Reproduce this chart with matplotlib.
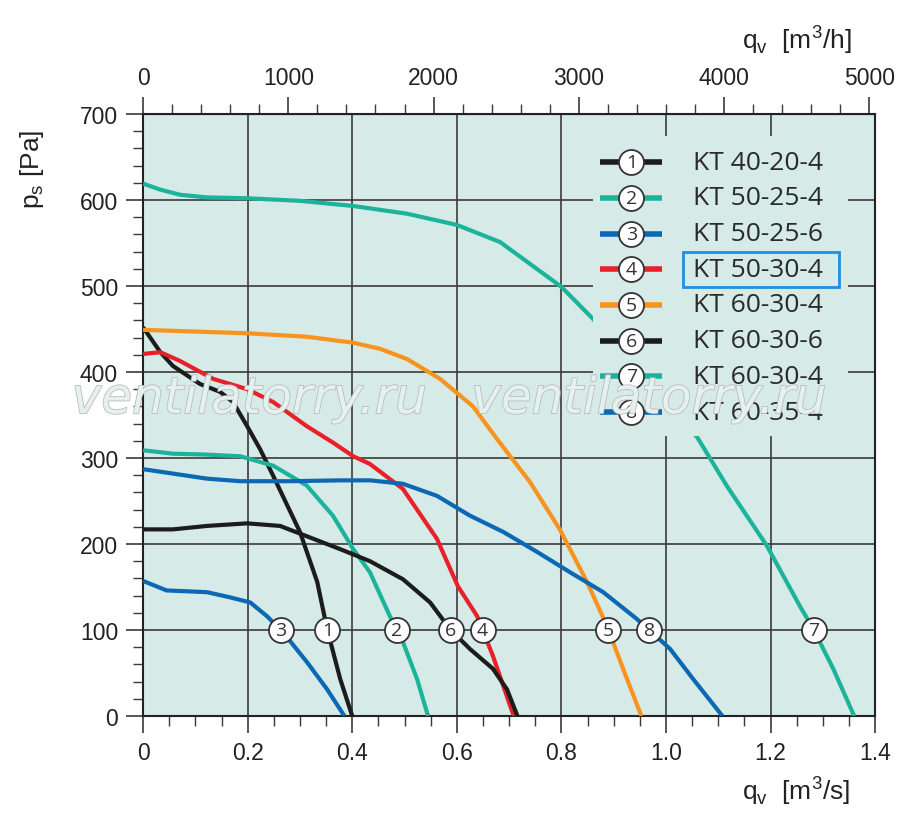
import numpy as np
import matplotlib.pyplot as plt
import matplotlib.patheffects as pe
from matplotlib.patches import Rectangle
from matplotlib.ticker import MultipleLocator

# Fan curves: q in m3/s, p_s in Pa
q1 = [0, 0.033, 0.057, 0.109, 0.147, 0.172, 0.199, 0.224, 0.249, 0.30, 0.333,
      0.352, 0.377, 0.40]
p1 = [452, 423, 407, 386, 377, 365, 337, 310, 279, 214, 156, 101, 43, 0]

q2 = [0, 0.057, 0.12, 0.186, 0.249, 0.313, 0.363, 0.402, 0.434, 0.472, 0.497,
      0.524, 0.545]
p2 = [309, 305, 304, 302, 291, 268, 233, 194, 167, 116, 86, 43, 0]

q3 = [0, 0.045, 0.122, 0.166, 0.205, 0.237, 0.268, 0.313, 0.352, 0.385]
p3 = [157, 146, 144, 138, 132, 116, 97, 63, 31, 0]

q4 = [0, 0.033, 0.07, 0.134, 0.199, 0.249, 0.313, 0.363, 0.402, 0.434, 0.497,
      0.562, 0.602, 0.639, 0.669, 0.702, 0.709]
p4 = [421, 423, 413, 392, 380, 365, 337, 318, 302, 293, 264, 206, 151, 116,
      70, 12, 0]

q5 = [0, 0.199, 0.313, 0.402, 0.453, 0.505, 0.568, 0.631, 0.677, 0.740, 0.797,
      0.849, 0.887, 0.918, 0.953]
p5 = [449, 445, 441, 434, 427, 415, 392, 360, 322, 272, 217, 156, 105, 55, 0]

q6 = [0, 0.057, 0.122, 0.199, 0.262, 0.313, 0.377, 0.434, 0.497, 0.549, 0.587,
      0.625, 0.669, 0.696, 0.716]
p6 = [217, 217, 221, 224, 221, 209, 194, 180, 159, 132, 101, 78, 55, 31, 0]

q7 = [0, 0.033, 0.071, 0.122, 0.199, 0.30, 0.402, 0.505, 0.60, 0.683, 0.746,
      0.80, 0.86, 0.92, 0.99, 1.06, 1.117, 1.193, 1.256, 1.282, 1.32, 1.36]
p7 = [619, 612, 606, 603, 602, 599, 593, 584, 571, 551, 523, 499, 462, 418,
      372, 324, 267, 198, 128, 101, 55, 0]

q8 = [0, 0.122, 0.186, 0.281, 0.377, 0.434, 0.497, 0.562, 0.625, 0.689, 0.753,
      0.817, 0.88, 0.944, 1.008, 1.052, 1.108]
p8 = [287, 276, 273, 273, 274, 274, 270, 256, 233, 214, 191, 167, 144, 113,
      78, 43, 0]

curves = [(q1, p1), (q2, p2), (q3, p3), (q4, p4),
          (q5, p5), (q6, p6), (q7, p7), (q8, p8)]
names = ["KT 40-20-4", "KT 50-25-4", "KT 50-25-6", "KT 50-30-4",
         "KT 60-30-4", "KT 60-30-6", "KT 60-30-4", "KT 60-35-4"]
colors = ["#1c1c1c", "#1db39b", "#0a68b4", "#e8202a",
          "#f7931e", "#1c1c1c", "#1db39b", "#0a68b4"]
label_p = 100  # circled numbers sit on the 100 Pa line

bg = "#d6ebe7"
grid_c = "#3a3a3a"
num_font = ["Open Sans", "DejaVu Sans"]
tick_font = ["Liberation Sans", "DejaVu Sans"]

fig = plt.figure(figsize=(9, 8.2), dpi=100)
ax = fig.add_axes([0.159, 0.1256, 0.8133, 0.7342])
ax.set_facecolor(bg)
ax.set_xlim(0, 1.4)
ax.set_ylim(0, 700)

ax.xaxis.set_major_locator(MultipleLocator(0.2))
ax.xaxis.set_minor_locator(MultipleLocator(0.05))
ax.yaxis.set_major_locator(MultipleLocator(100))
ax.yaxis.set_minor_locator(MultipleLocator(20))
ax.grid(True, which="major", color=grid_c, lw=1.2, zorder=1)
ax.set_axisbelow(True)
ax.set_xticks(np.arange(0, 1.41, 0.2))
ax.set_xticklabels(["0", "0.2", "0.4", "0.6", "0.8", "1.0", "1.2", "1.4"])
ax.tick_params(which="major", direction="out", length=12, width=1.2, color=grid_c,
               labelsize=16.5, pad=6)
ax.tick_params(which="minor", direction="out", length=7, width=1.0, color=grid_c)
for lab in ax.get_xticklabels() + ax.get_yticklabels():
    lab.set_family(tick_font)
    lab.set_color("#222222")
for s in ax.spines.values():
    s.set_color("#222222")
    s.set_linewidth(1.5)

sec = ax.secondary_xaxis("top", functions=(lambda x: x * 3600, lambda x: x / 3600))
sec.set_xticks(np.arange(0, 5001, 1000))
sec.xaxis.set_minor_locator(MultipleLocator(200))
sec.tick_params(which="major", direction="out", length=12, width=1.2, color=grid_c,
                labelsize=16.5, pad=6)
sec.tick_params(which="minor", direction="out", length=7, width=1.0, color=grid_c)
for lab in sec.get_xticklabels():
    lab.set_family(tick_font)
    lab.set_color("#222222")

# curves
for (q, p), c in zip(curves, colors):
    ax.plot(q, p, color=c, lw=3, solid_capstyle="butt", solid_joinstyle="round",
            zorder=3)

# circled numbers on the curves at 100 Pa
for i, (q, p) in enumerate(curves):
    q = np.asarray(q, float)
    p = np.asarray(p, float)
    k = int(np.argmax(p))
    qx = np.interp(label_p, p[k:][::-1], q[k:][::-1])
    ax.plot(qx, label_p, "o", ms=18, mfc="white", mec="#333333", mew=1.3, zorder=5)
    ax.text(qx, label_p, str(i + 1), ha="center", va="center", fontsize=14,
            family=num_font, color="#333333", zorder=6)

# legend block (drawn by hand, number circles in the line)
ax.add_patch(Rectangle((0.615, 0.465), 0.348, 0.498, transform=ax.transAxes,
                       facecolor=bg, edgecolor="none", zorder=7))
row0, step = 0.920, 0.0593
for i, (name, c) in enumerate(zip(names, colors)):
    yy = row0 - i * step
    ax.plot([0.624, 0.709], [yy, yy], color=c, lw=4, transform=ax.transAxes,
            solid_capstyle="butt", zorder=8)
    ax.plot(0.667, yy, "o", ms=18, mfc="white", mec="#333333", mew=1.3,
            transform=ax.transAxes, zorder=9)
    ax.text(0.667, yy, str(i + 1), ha="center", va="center", fontsize=14,
            family=num_font, color="#333333", transform=ax.transAxes, zorder=10)
    ax.text(0.751, yy, name, ha="left", va="center", fontsize=19,
            family=num_font, color="#2a2a2a", transform=ax.transAxes, zorder=10)
    if i == 3:
        ax.add_patch(Rectangle((0.737, yy - 0.029), 0.214, 0.058,
                               transform=ax.transAxes, facecolor="none",
                               edgecolor="#1e8fe1", lw=2, zorder=10))

# axis labels
fig.text(0.035, 0.793, r"p$_\mathregular{s}$ [Pa]", rotation=90, ha="center",
         va="center", fontsize=19, family=tick_font, color="#222222")
fig.text(0.885, 0.952, r"q$_\mathregular{v}$  [m$^\mathregular{3}$/h]", ha="center",
         va="center", fontsize=19, family=tick_font, color="#222222")
fig.text(0.885, 0.036, r"q$_\mathregular{v}$  [m$^\mathregular{3}$/s]", ha="center",
         va="center", fontsize=19, family=tick_font, color="#222222")

# watermark (outlined text)
for xw in (0.277, 0.721):
    fig.text(xw, 0.512, "ventilatorry.ru", ha="center", va="center", fontsize=36,
             style="italic", family=["DejaVu Sans"], color="#e4f1ee", zorder=20,
             path_effects=[pe.Stroke(linewidth=1.1, foreground="#b8b8b8"),
                           pe.Normal()])

fig.savefig("out.png", dpi=100, facecolor="white")
